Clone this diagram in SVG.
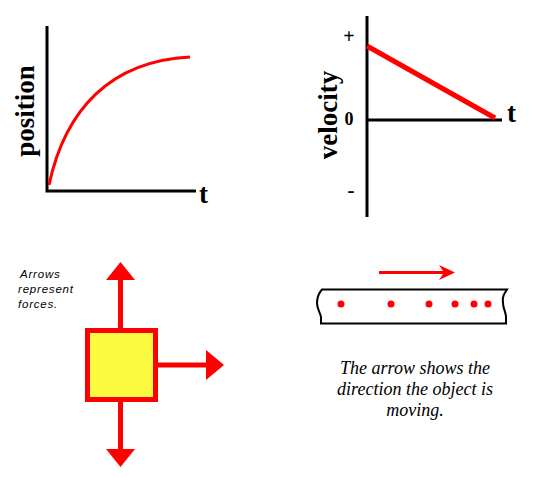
<svg xmlns="http://www.w3.org/2000/svg" width="535" height="478" viewBox="0 0 535 478">
<style>
.ax{stroke:#000;stroke-width:3;fill:none}
.red{stroke:#ff0000;fill:none}
.lbl{font-family:"Liberation Serif",serif;font-weight:bold;fill:#000}
.note{font-family:"Liberation Sans",sans-serif;font-style:italic;font-size:11.5px;letter-spacing:0.8px;fill:#000}
.cap{font-family:"Liberation Serif",serif;font-style:italic;font-size:18px;fill:#000;text-anchor:middle}
.rf{fill:#ff0000}
</style>
<g id="position-graph">
<path class="ax" d="M47,26V191H196"/>
<path class="red" stroke-width="3" d="M49,185 C65,110 110,61 190,57"/>
<text class="lbl" font-size="27" transform="translate(34,111) rotate(-90)" text-anchor="middle">position</text>
<text class="lbl" font-size="27" x="199" y="203">t</text>
</g>
<g id="velocity-graph">
<path class="ax" d="M367,16V217"/>
<path class="ax" d="M367,120H502"/>
<path class="red" stroke-width="5" d="M367,46L495,118"/>
<text class="lbl" font-size="27" transform="translate(337,115) rotate(-90)" text-anchor="middle">velocity</text>
<text class="lbl" font-size="27" x="507" y="122">t</text>
<text class="lbl" font-size="18" x="349" y="125" text-anchor="middle">0</text>
<text class="lbl" font-size="20" x="349" y="43" text-anchor="middle" font-weight="normal">+</text>
<text class="lbl" font-size="21" x="351" y="197" text-anchor="middle">-</text>
</g>
<g id="forces">
<text class="note"><tspan x="20" y="278">Arrows</tspan><tspan x="18" y="293">represent</tspan><tspan x="18" y="308">forces.</tspan></text>
<g id="arrows">
<rect class="rf" x="118" y="279" width="5" height="50"/>
<polygon class="rf" points="106,280 120.5,262 135,280"/>
<rect class="rf" x="118" y="401" width="5" height="49"/>
<polygon class="rf" points="106,449 120.5,467 135,449"/>
<rect class="rf" x="157" y="362.5" width="51" height="5"/>
<polygon class="rf" points="206,350 224,365 206,380"/>
</g>
<rect id="box" x="87.5" y="330.5" width="68" height="69" fill="#fafa40" stroke="#ff0000" stroke-width="5"/>
</g>
<g id="motion">
<line x1="379" y1="272.5" x2="446" y2="272.5" stroke="#ff0000" stroke-width="3"/>
<polygon class="rf" points="439,265 455,272.5 439,280 444,272.5"/>
<path d="M322,289.5H507 C504,294 502,297 503,303 C503,309 506,312 506,317 L506,323.5 H321 V317 C320,312 317,309 317,303 C317,297 318,294 322,289.5Z" fill="none" stroke="#000" stroke-width="2"/>
<g class="rf">
<circle cx="341" cy="304" r="3.5"/>
<circle cx="391" cy="304" r="3.5"/>
<circle cx="429" cy="304" r="3.5"/>
<circle cx="455" cy="304" r="3.5"/>
<circle cx="474" cy="304" r="3.5"/>
<circle cx="488" cy="304" r="3.5"/>
</g>
<text class="cap"><tspan x="415" y="374">The arrow shows the</tspan><tspan x="415" y="395">direction the object is</tspan><tspan x="415" y="416">moving.</tspan></text>
</g>
</svg>
